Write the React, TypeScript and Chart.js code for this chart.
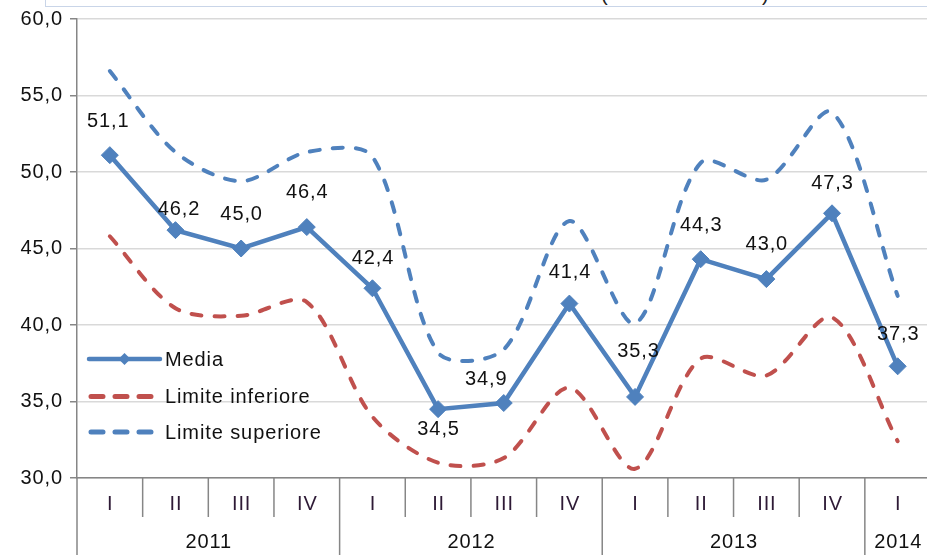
import React, { useEffect, useRef } from 'react';
import { Chart, registerables } from 'chart.js';

Chart.register(...registerables);

const QUARTERS = ['I', 'II', 'III', 'IV', 'I', 'II', 'III', 'IV', 'I', 'II', 'III', 'IV', 'I'];
const YEARS = ['2011', '2011', '2011', '2011', '2012', '2012', '2012', '2012', '2013', '2013', '2013', '2013', '2014'];
const MEDIA = [51.1, 46.2, 45.0, 46.4, 42.4, 34.5, 34.9, 41.4, 35.3, 44.3, 43.0, 47.3, 37.3];
const LIMITE_INFERIORE = [45.8, 41.1, 40.6, 41.5, 34.0, 31.0, 31.3, 35.9, 30.6, 37.8, 36.7, 40.5, 32.4];
const LIMITE_SUPERIORE = [56.6, 51.3, 49.4, 51.3, 51.0, 38.2, 38.4, 46.8, 40.1, 50.6, 49.5, 53.9, 41.9];
const SERIES_NAMES = ['Media', 'Limite inferiore', 'Limite superiore'];
const Y_MIN = 30;
const Y_MAX = 60;
const Y_STEP = 5;

// label placement tweaks (px, relative to each point)
const LABEL_DY = [-34, -21, -34, -35, -30, 20, -24, -31, -45, -34, -35, -30, -32];
const LABEL_DX = [-2, 3, 0, 0, 0, 0, -18, 0, 3, 0, 0, 0, 0];

const FONT = '"Liberation Sans", Arial, sans-serif';
const FONT_SIZE = 20;
const SPACING = '0.9px';
const BLUE = '#4f81bd';
const RED = '#c0504d';
const AXIS = '#868686';
const GRID = '#d9d9d9';
const TEXT = '#111111';
const QTEXT = '#2e1a36';

const fmt = (v: number) => v.toFixed(1).replace('.', ',');

const overlayPlugin = {
  id: 'overlay',
  beforeDraw(chart: any) {
    (chart.ctx as any).letterSpacing = SPACING;
  },
  afterDraw(chart: any) {
    const ctx = chart.ctx as CanvasRenderingContext2D;
    const area = chart.chartArea;
    const xs = chart.scales.x;
    const ys = chart.scales.y;
    const H = chart.height;
    ctx.save();
    (ctx as any).letterSpacing = SPACING;

    // x axis separators
    ctx.strokeStyle = AXIS;
    ctx.lineWidth = 1.5;
    for (let i = 0; i <= QUARTERS.length; i++) {
      const x = xs.getPixelForValue(i - 0.5);
      const yearStart = i === 0 || i === QUARTERS.length || YEARS[i] !== YEARS[i - 1];
      ctx.beginPath();
      ctx.moveTo(x, area.bottom);
      ctx.lineTo(x, yearStart ? H : area.bottom + 39);
      ctx.stroke();
    }
    // quarter labels
    ctx.font = `${FONT_SIZE}px ${FONT}`;
    ctx.textAlign = 'center';
    ctx.textBaseline = 'middle';
    ctx.fillStyle = QTEXT;
    QUARTERS.forEach((q, i) => {
      ctx.fillText(q, xs.getPixelForValue(i) + 0.5, area.bottom + 26);
    });
    // year labels
    ctx.fillStyle = TEXT;
    let start = 0;
    for (let i = 1; i <= YEARS.length; i++) {
      if (i === YEARS.length || YEARS[i] !== YEARS[start]) {
        const x0 = xs.getPixelForValue(start - 0.5);
        const x1 = xs.getPixelForValue(i - 0.5);
        ctx.fillText(YEARS[start], (x0 + x1) / 2 + 0.5, area.bottom + 64);
        start = i;
      }
    }

    // data labels
    ctx.fillStyle = TEXT;
    MEDIA.forEach((v, i) => {
      const x = xs.getPixelForValue(i);
      const y = ys.getPixelForValue(v);
      ctx.fillText(fmt(v), x + LABEL_DX[i] + 0.5, y + LABEL_DY[i]);
    });

    // legend
    const lx0 = area.left + 12;
    const lx1 = area.left + 83;
    const tx = area.left + 88;
    const rows = [area.bottom - 119, area.bottom - 81.5, area.bottom - 46];
    ctx.lineCap = 'round';
    // Media
    ctx.strokeStyle = BLUE;
    ctx.lineWidth = 4.5;
    ctx.setLineDash([]);
    ctx.beginPath();
    ctx.moveTo(lx0, rows[0]);
    ctx.lineTo(lx1, rows[0]);
    ctx.stroke();
    const cx = (lx0 + lx1) / 2;
    ctx.fillStyle = BLUE;
    ctx.beginPath();
    ctx.moveTo(cx - 6, rows[0]);
    ctx.lineTo(cx, rows[0] - 6);
    ctx.lineTo(cx + 6, rows[0]);
    ctx.lineTo(cx, rows[0] + 6);
    ctx.closePath();
    ctx.fill();
    // dashed
    [RED, BLUE].forEach((c, k) => {
      ctx.strokeStyle = c;
      ctx.lineWidth = 5;
      ctx.setLineDash([12, 12]);
      ctx.beginPath();
      ctx.moveTo(lx0 + 2, rows[k + 1]);
      ctx.lineTo(lx1 - 4, rows[k + 1]);
      ctx.stroke();
    });
    ctx.setLineDash([]);
    ctx.textAlign = 'left';
    ctx.fillStyle = TEXT;
    SERIES_NAMES.forEach((n, k) => {
      ctx.fillText(n, tx, rows[k] + 1);
    });
    ctx.restore();
  },
};

export default function App() {
  const ref = useRef<HTMLCanvasElement | null>(null);
  useEffect(() => {
    if (!ref.current) return;
    const chart = new Chart(ref.current, {
      type: 'line',
      data: {
        labels: QUARTERS.map((q, i) => `${q} ${YEARS[i]}`),
        datasets: [
          {
            label: SERIES_NAMES[2],
            data: LIMITE_SUPERIORE,
            borderColor: BLUE,
            borderWidth: 4,
            borderDash: [10, 13],
            borderCapStyle: 'round',
            tension: 0.3,
            pointRadius: 0,
            fill: false,
          },
          {
            label: SERIES_NAMES[1],
            data: LIMITE_INFERIORE,
            borderColor: RED,
            borderWidth: 4,
            borderDash: [10, 13],
            borderCapStyle: 'round',
            tension: 0.3,
            pointRadius: 0,
            fill: false,
          },
          {
            label: SERIES_NAMES[0],
            data: MEDIA,
            borderColor: BLUE,
            backgroundColor: BLUE,
            borderWidth: 4.5,
            tension: 0,
            pointStyle: 'rectRot',
            pointRadius: 8.5,
            pointBorderWidth: 1,
            pointBackgroundColor: BLUE,
            pointBorderColor: BLUE,
            fill: false,
          },
        ],
      },
      options: {
        animation: false,
        responsive: false,
        layout: { padding: { top: 19, right: 8, bottom: 0, left: 0 } },
        plugins: { legend: { display: false }, tooltip: { enabled: false } },
        scales: {
          x: {
            type: 'category',
            offset: true,
            grid: { display: false, drawTicks: false },
            ticks: { display: false },
            border: { display: true, color: AXIS, width: 1.5 },
            afterFit: (s: any) => {
              s.height = 77;
            },
          },
          y: {
            min: Y_MIN,
            max: Y_MAX,
            ticks: {
              stepSize: Y_STEP,
              padding: 7,
              color: TEXT,
              font: { family: FONT, size: FONT_SIZE },
              callback: (v: any) => fmt(Number(v)),
            },
            grid: {
              color: GRID,
              lineWidth: 1.5,
              tickLength: 7,
              tickColor: AXIS,
              tickWidth: 1.5,
            },
            border: { display: true, color: AXIS, width: 1.5 },
            afterFit: (s: any) => {
              s.width = 77;
            },
          },
        },
      },
      plugins: [overlayPlugin],
    } as any);
    return () => chart.destroy();
  }, []);

  return (
    <div
      style={{
        position: 'fixed',
        left: 0,
        top: 0,
        width: 927,
        height: 555,
        overflow: 'hidden',
        background: '#ffffff',
      }}
    >
      <div
        style={{
          position: 'absolute',
          left: 45,
          top: -30,
          width: 1000,
          height: 35,
          border: '1px solid #c9d5e8',
          fontFamily: FONT,
          fontSize: 20,
          lineHeight: '20px',
          color: '#222',
        }}
      >
        <span style={{ position: 'absolute', left: 555, top: 13 }}>(</span>
        <span style={{ position: 'absolute', left: 716, top: 13 }}>)</span>
      </div>
      <div style={{ position: 'absolute', left: 0, top: 0, width: 940, height: 555 }}>
        <canvas ref={ref} width={940} height={555} style={{ display: 'block' }} />
      </div>
    </div>
  );
}
